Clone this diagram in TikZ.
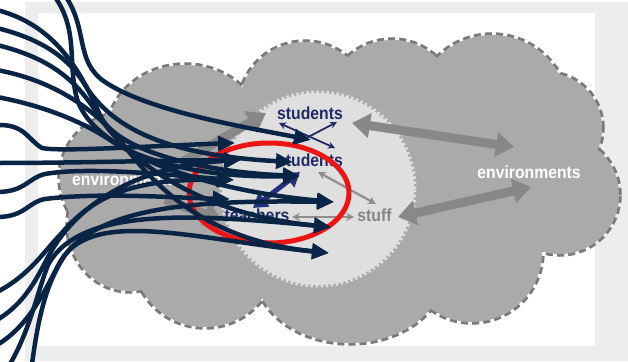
\documentclass[tikz,border=0pt]{standalone}
\usepackage{fontspec}
\newfontfamily\labfont[FakeStretch=0.9]{Liberation Sans}
\usetikzlibrary{arrows.meta}
\definecolor{bgframe}{HTML}{EDEDED}
\definecolor{cloudfill}{HTML}{AAAAAA}
\definecolor{cloudedge}{HTML}{7A7A7A}
\definecolor{lightfill}{HTML}{DFDFDF}
\definecolor{arrgrey}{HTML}{888888}
\definecolor{smallgrey}{HTML}{8E8E8E}
\definecolor{stuffgrey}{HTML}{858585}
\definecolor{labnavy}{HTML}{202A66}
\definecolor{midnavy}{HTML}{25307A}
\definecolor{navyline}{HTML}{0A2446}
\definecolor{ringred}{HTML}{EE1414}
\newcommand\cloudlobes[1]{%
  \path[#1] (125,178) circle[radius=65pt];
  \path[#1] (130,225) ellipse[x radius=62pt,y radius=66pt];
  \path[#1] (185,135) ellipse[x radius=78pt,y radius=70pt];
  \path[#1] (305,108) circle[radius=66pt];
  \path[#1] (392,105) circle[radius=65pt];
  \path[#1] (492,112) circle[radius=77pt];
  \path[#1] (547,128) circle[radius=55pt];
  \path[#1] (560,195) circle[radius=59pt];
  \path[#1] (472,252) circle[radius=70pt];
  \path[#1] (350,270) ellipse[x radius=95pt,y radius=73pt];
  \path[#1] (205,255) circle[radius=72pt];
}
\tikzset{
  lab/.style={font=\labfont\bfseries\fontsize{17.5}{18}\selectfont, inner sep=0pt},
  bigarr/.style={draw=arrgrey, line width=9pt, {Triangle[length=18pt,width=24pt]}-{Triangle[length=18pt,width=24pt]}},
  bigone/.style={draw=arrgrey, line width=9pt, -{Triangle[length=18pt,width=24pt]}},
  thinnavy/.style={draw=labnavy, line width=1.8pt, {Stealth[length=7pt,width=7pt]}-{Stealth[length=7pt,width=7pt]}},
  thingrey/.style={draw=smallgrey, line width=2.2pt, {Stealth[length=8pt,width=8pt]}-{Stealth[length=8pt,width=8pt]}},
  fatnavy/.style={draw=midnavy, line width=5pt, {Triangle[length=14pt,width=17pt]}-{Triangle[length=14pt,width=17pt]}},
  pen/.style={draw=navyline, line width=4.5pt, -{Triangle[length=17pt,width=15pt]}}
}
\begin{document}
\begin{tikzpicture}[x=1pt,y=-1pt]
\useasboundingbox (0,0) rectangle (628,361);
\fill[white] (0,0) rectangle (628,361);
\fill[bgframe] (25,2) rectangle (628,361);
\fill[white] (38,13) rectangle (595,346);

% cloud
\cloudlobes{draw=cloudedge, line width=5.5pt, dash pattern=on 7pt off 4pt}
\cloudlobes{fill=cloudfill}
\fill[cloudfill] (340,190) ellipse[x radius=220pt,y radius=110pt];

% inner region
\path[fill=lightfill, draw=lightfill, line width=5pt, dash pattern=on 2.5pt off 2.5pt] (318,189) circle[radius=96pt];

% labels
\node[lab, text=labnavy, anchor=base] (stud1) at (310,119.5) {students};
\node[lab, text=labnavy, anchor=base] (stud2) at (310,166.5) {students};
\node[lab, text=labnavy, anchor=base] (teach) at (257,221.5) {teachers};
\node[lab, text=stuffgrey, anchor=base] (stuff) at (374.5,221.5) {stuff};
\node[lab, text=white, anchor=base] (envR) at (529,178.3) {environments};
\node[lab, text=white, anchor=base west] (envL) at (72,185) {environments};

% grey arrows
\coordinate (a1) at (352,123); \coordinate (a2) at (514,147);
\coordinate (b1) at (398,217); \coordinate (b2) at (531,187);
\coordinate (c1) at (165,172); \coordinate (c2) at (266,113);
\coordinate (d1) at (165,200); \coordinate (d2) at (222,220);
\draw[bigarr] (a1) -- (a2);
\draw[bigarr] (b1) -- (b2);
\draw[bigone] (c1) -- (c2);
\draw[bigone] (d1) -- (d2);

% small arrows
\coordinate (e1) at (279,123); \coordinate (e2) at (335,148);
\coordinate (f1) at (289,147); \coordinate (f2) at (337,122);
\draw[thinnavy] (e1) -- (e2);
\draw[thinnavy] (f1) -- (f2);
\coordinate (g1) at (318,172); \coordinate (g2) at (376,204);
\coordinate (h1) at (292,217); \coordinate (h2) at (354,217);
\draw[thingrey] (g1) -- (g2);
\draw[thingrey] (h1) -- (h2);
\coordinate (m1) at (253,208); \coordinate (m2) at (300,172);
\draw[fatnavy] (m1) -- (m2);

% red ring
\draw[draw=ringred, line width=5pt] (269,193) ellipse[x radius=80pt,y radius=50pt];

% pen strokes
\coordinate (t1) at (235,143); \coordinate (t2) at (241,160);
\coordinate (t3) at (234,180); \coordinate (t4) at (230,199);
\coordinate (t5) at (293,162); \coordinate (t6) at (300,176);
\coordinate (t7) at (334,202); \coordinate (t8) at (331,227);
\coordinate (t9) at (329,253); \coordinate (t10) at (311,140);
\coordinate (s1) at (66,-3); \coordinate (s2) at (55,-3);
\coordinate (s3) at (-3,10); \coordinate (s4) at (-3,28);
\coordinate (s5) at (-3,45); \coordinate (s6) at (-3,70);
\coordinate (s7) at (-3,97); \coordinate (s8) at (-3,125);
\coordinate (s9) at (-3,163); \coordinate (s10) at (-3,192);
\coordinate (s11) at (-3,217); \coordinate (s12) at (-3,292);
\coordinate (s13) at (-3,320); \coordinate (s14) at (-3,345);
\coordinate (s15) at (10,364); \coordinate (s16) at (32,364);

\draw[pen] (s1) .. controls (88,30) and (75,62) .. (105,82) .. controls (150,112) and (250,128) .. (t10);
\draw[pen] (s2) .. controls (78,30) and (68,60) .. (76,95) .. controls (88,150) and (200,190) .. (t7);
\draw[pen] (s3) .. controls (55,25) and (80,70) .. (100,115) .. controls (115,150) and (200,172) .. (t6);
\draw[pen] (s4) .. controls (45,40) and (70,60) .. (85,85) .. controls (110,125) and (160,155) .. (t5);
\draw[pen] (s5) .. controls (50,58) and (75,80) .. (95,110) .. controls (125,160) and (200,215) .. (t8);
\draw[pen] (s6) .. controls (50,80) and (90,105) .. (120,140) .. controls (150,180) and (200,240) .. (t9);
\draw[pen] (s7) .. controls (40,105) and (80,120) .. (110,140) .. controls (140,160) and (200,178) .. (t6);
\draw[pen] (s8) .. controls (25,124) and (28,140) .. (42,148) .. controls (60,152) and (150,146) .. (t1);
\draw[pen] (s9) .. controls (80,163) and (180,160) .. (t2);
\draw[pen] (s10) .. controls (25,192) and (28,178) .. (45,174) .. controls (90,166) and (180,176) .. (t3);
\draw[pen] (s11) .. controls (25,217) and (28,202) .. (45,199) .. controls (100,192) and (180,198) .. (t4);
\draw[pen] (s12) .. controls (30,275) and (45,250) .. (60,235) .. controls (90,200) and (125,178) .. (t3);
\draw[pen] (s13) .. controls (30,300) and (40,270) .. (52,250) .. controls (85,195) and (150,165) .. (t2);
\draw[pen] (s14) .. controls (30,325) and (45,290) .. (60,262) .. controls (95,205) and (200,200) .. (t7);
\draw[pen] (s15) .. controls (30,330) and (38,290) .. (48,265) .. controls (80,205) and (200,215) .. (t8);
\draw[pen] (s16) .. controls (38,320) and (45,285) .. (65,255) .. controls (100,210) and (200,240) .. (t9);
\end{tikzpicture}
\end{document}
